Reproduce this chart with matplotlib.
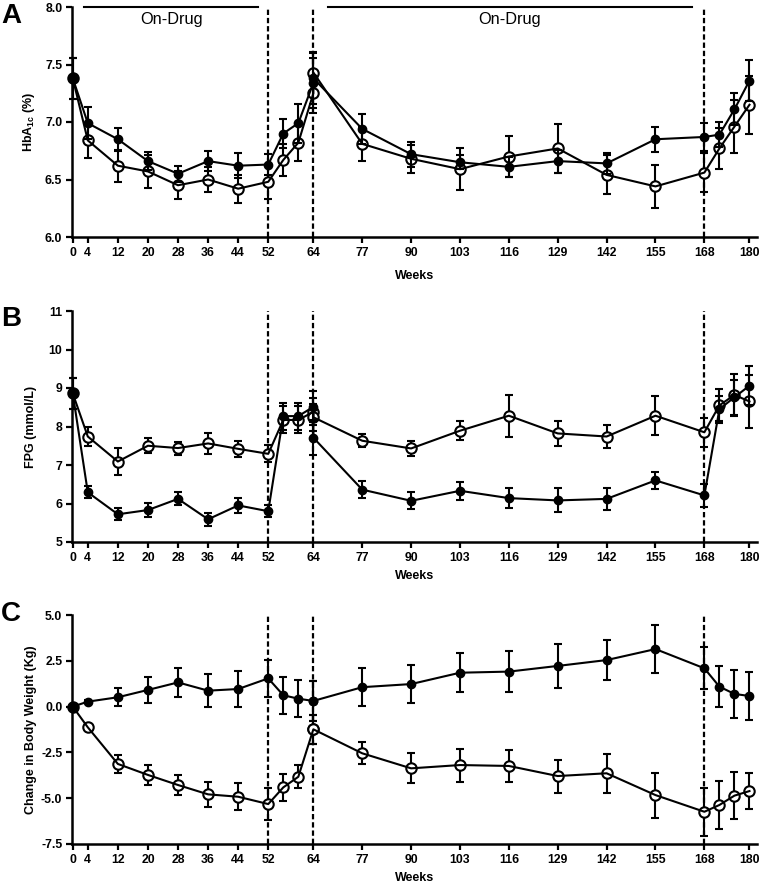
import matplotlib
matplotlib.use("Agg")
import matplotlib.pyplot as plt

plt.rcParams['font.family'] = ['Liberation Sans', 'DejaVu Sans']
plt.rcParams['mathtext.fontset'] = 'custom'
plt.rcParams['mathtext.rm'] = 'Liberation Sans'
plt.rcParams['mathtext.bf'] = 'Liberation Sans:bold'

# ---------------- data ----------------
weeks = [0, 4, 12, 20, 28, 36, 44, 52, 56, 60, 64, 64, 77, 90, 103, 116, 129, 142, 155, 168, 172, 176, 180]
tick_weeks = [0, 4, 12, 20, 28, 36, 44, 52, 64, 77, 90, 103, 116, 129, 142, 155, 168, 180]
phase_lines = [52, 64, 168]
on_drug_start = [3, 68]
on_drug_end = [49.4, 164.6]
on_drug_label = "On-Drug"

hba1c_filled = [7.38, 6.99, 6.85, 6.66, 6.55, 6.66, 6.62, 6.63, 6.90, 6.99, 7.34, 7.38, 6.94, 6.72, 6.65, 6.61, 6.66, 6.64, 6.85, 6.87, 6.89, 7.11, 7.36]
hba1c_filled_err = [0.18, 0.14, 0.10, 0.08, 0.07, 0.09, 0.11, 0.09, 0.13, 0.17, 0.22, 0.22, 0.13, 0.11, 0.06, 0.09, 0.10, 0.09, 0.11, 0.12, 0.11, 0.14, 0.18]
hba1c_open = [7.38, 6.84, 6.62, 6.57, 6.45, 6.50, 6.42, 6.48, 6.67, 6.82, 7.25, 7.43, 6.81, 6.68, 6.59, 6.70, 6.77, 6.54, 6.44, 6.56, 6.77, 6.96, 7.15]
hba1c_open_err = [0.18, 0.15, 0.14, 0.14, 0.12, 0.11, 0.12, 0.15, 0.14, 0.16, 0.17, 0.18, 0.15, 0.12, 0.18, 0.18, 0.21, 0.17, 0.19, 0.17, 0.18, 0.23, 0.25]

fpg_filled = [8.86, 6.29, 5.72, 5.83, 6.12, 5.59, 5.95, 5.80, 8.27, 8.27, 8.51, 7.71, 6.36, 6.07, 6.33, 6.14, 6.08, 6.12, 6.60, 6.21, 8.45, 8.76, 9.06]
fpg_filled_err = [0.40, 0.16, 0.16, 0.18, 0.17, 0.17, 0.20, 0.15, 0.35, 0.35, 0.40, 0.45, 0.22, 0.22, 0.23, 0.25, 0.31, 0.28, 0.23, 0.30, 0.35, 0.45, 0.50]
fpg_open = [8.86, 7.74, 7.09, 7.50, 7.44, 7.56, 7.42, 7.29, 8.17, 8.17, 8.38, 8.24, 7.63, 7.43, 7.89, 8.28, 7.82, 7.74, 8.28, 7.85, 8.55, 8.82, 8.65]
fpg_open_err = [0.40, 0.25, 0.36, 0.20, 0.17, 0.28, 0.20, 0.22, 0.35, 0.35, 0.35, 0.35, 0.17, 0.20, 0.25, 0.55, 0.32, 0.30, 0.50, 0.37, 0.42, 0.55, 0.70]

wt_filled = [0.0, 0.27, 0.51, 0.91, 1.32, 0.87, 0.96, 1.54, 0.62, 0.43, 0.31, 0.31, 1.06, 1.23, 1.85, 1.91, 2.22, 2.54, 3.14, 2.09, 1.09, 0.69, 0.58]
wt_filled_err = [0.0, 0.10, 0.48, 0.70, 0.80, 0.90, 1.00, 1.00, 1.00, 1.00, 1.10, 1.10, 1.05, 1.05, 1.05, 1.13, 1.20, 1.10, 1.30, 1.14, 1.13, 1.30, 1.30]
wt_open = [0.0, -1.13, -3.13, -3.73, -4.28, -4.79, -4.92, -5.32, -4.41, -3.83, -1.24, -1.24, -2.55, -3.37, -3.19, -3.24, -3.79, -3.64, -4.83, -5.74, -5.37, -4.86, -4.61]
wt_open_err = [0.0, 0.15, 0.47, 0.53, 0.55, 0.70, 0.73, 0.85, 0.73, 0.62, 0.80, 0.80, 0.60, 0.82, 0.90, 0.87, 0.90, 1.05, 1.23, 1.30, 1.30, 1.30, 1.00]

# ---------------- figure ----------------
W, H = 763, 886
fig = plt.figure(figsize=(W / 100, H / 100), dpi=100)

def axes_px(top, bottom, left=72, right=757):
    return fig.add_axes([left / W, 1 - bottom / H, (right - left) / W, (bottom - top) / H])

axA = axes_px(7, 237)
axB = axes_px(311, 542)
axC = axes_px(615, 844)

LW = 1.5

def draw_series(ax, y, err, filled):
    if filled:
        ax.errorbar(weeks, y, yerr=err, fmt='none', ecolor='black', elinewidth=LW,
                    capsize=2.6, capthick=LW, zorder=5, clip_on=False)
        ax.plot(weeks, y, color='black', lw=LW, zorder=6, clip_on=False)
        ax.plot(weeks, y, linestyle='none', marker='o', ms=6, mfc='black', mec='black',
                zorder=7, clip_on=False)
    else:
        ax.errorbar(weeks, y, yerr=err, fmt='none', ecolor='black', elinewidth=LW,
                    capsize=2.6, capthick=LW, zorder=2, clip_on=False)
        ax.plot(weeks, y, linestyle='none', marker='o', ms=7.5, mfc='white', mec='black',
                mew=1.5, zorder=3, clip_on=False)
        ax.plot(weeks, y, color='black', lw=LW, zorder=4, clip_on=False)

def style_axis(ax, ylim, yticks, yfmt, ylabel, label_pad):
    ax.set_xlim(-0.2, 182)
    ax.set_ylim(*ylim)
    ax.set_xticks(tick_weeks)
    ax.set_xticklabels([str(t) for t in tick_weeks])
    ax.set_yticks(yticks)
    ax.set_yticklabels([yfmt.format(v) for v in yticks])
    for s in ['top', 'right']:
        ax.spines[s].set_visible(False)
    for s in ['left', 'bottom']:
        ax.spines[s].set_linewidth(1.8)
    ax.tick_params(axis='both', direction='out', length=4.5, width=1.6,
                   labelsize=8.8, pad=2.5)
    for lab in ax.get_xticklabels() + ax.get_yticklabels():
        lab.set_fontweight('bold')
    ax.set_xlabel('Weeks', fontsize=9, fontweight='bold', labelpad=label_pad)
    ax.set_ylabel(ylabel, fontsize=9, fontweight='bold')
    ax.yaxis.set_label_coords(-0.051, 0.5)
    for x in phase_lines:
        ax.axvline(x, color='black', lw=1.6, linestyle=(0, (2.4, 1.3)), zorder=1)

for ax, yo, eo, yf, ef in [
    (axA, hba1c_open, hba1c_open_err, hba1c_filled, hba1c_filled_err),
    (axB, fpg_open, fpg_open_err, fpg_filled, fpg_filled_err),
    (axC, wt_open, wt_open_err, wt_filled, wt_filled_err),
]:
    draw_series(ax, yo, eo, False)
    draw_series(ax, yf, ef, True)

style_axis(axA, (6.0, 8.0), [6.0, 6.5, 7.0, 7.5, 8.0], '{:.1f}', r'HbA$_{\mathbf{1c}}$ (%)', 8)
style_axis(axB, (5, 11), [5, 6, 7, 8, 9, 10, 11], '{:.0f}', 'FPG (mmol/L)', 4.5)
style_axis(axC, (-7.5, 5.0), [-7.5, -5.0, -2.5, 0.0, 2.5, 5.0], '{:.1f}', 'Change in Body Weight (Kg)', 4.5)

# On-drug bars
for x0, x1 in zip(on_drug_start, on_drug_end):
    axA.plot([x0, x1], [8.0, 8.0], color='black', lw=1.5, clip_on=False, zorder=5)
    axA.text((x0 + x1) / 2, 7.955, on_drug_label, ha='center', va='top', fontsize=11.8)

# Panel letters
for letter, ypx in [('A', 16), ('B', 319), ('C', 614)]:
    fig.text(1 / W, 1 - ypx / H, letter, fontsize=20, fontweight='bold', ha='left', va='center')

fig.savefig('out.png', dpi=100)
